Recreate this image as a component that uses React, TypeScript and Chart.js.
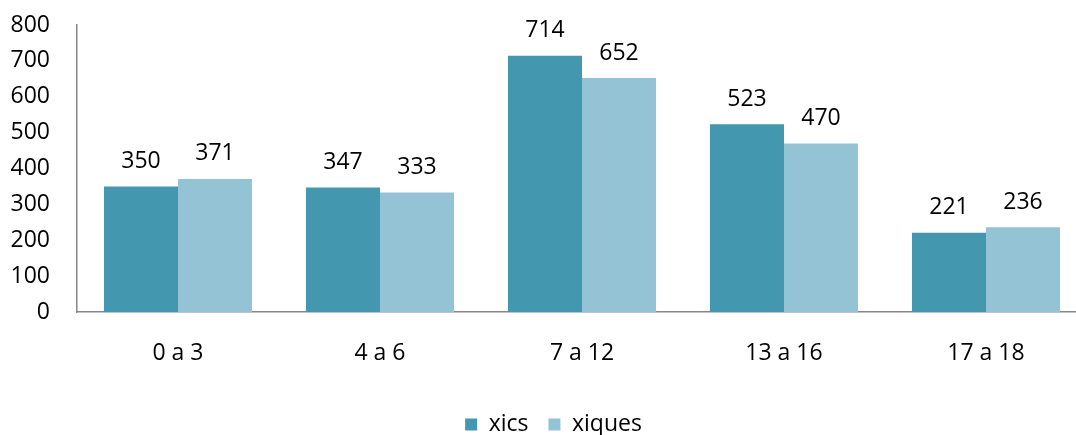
import React, { useEffect, useRef } from "react";
import { Chart, registerables } from "chart.js";

Chart.register(...registerables);

const categories = ["0 a 3", "4 a 6", "7 a 12", "13 a 16", "17 a 18"];
const xics = [350, 347, 714, 523, 221];
const xiques = [371, 333, 652, 470, 236];
const yTicks = [0, 100, 200, 300, 400, 500, 600, 700, 800];

const FONT = "'Open Sans', sans-serif";
const FS = 23;
const W = 1110;
const H = 435;

const valueLabels = {
  id: "valueLabels",
  afterDatasetsDraw(chart: any) {
    const ctx = chart.ctx;
    ctx.save();
    ctx.font = `${FS}px ${FONT}`;
    ctx.fillStyle = "#000";
    ctx.textAlign = "center";
    ctx.textBaseline = "middle";
    chart.data.datasets.forEach((ds: any, i: number) => {
      const meta = chart.getDatasetMeta(i);
      meta.data.forEach((bar: any, j: number) => {
        ctx.fillText(String(ds.data[j]), bar.x, bar.y - 25);
      });
    });
    ctx.restore();
  },
};

export default function App() {
  const ref = useRef<HTMLCanvasElement | null>(null);
  useEffect(() => {
    if (!ref.current) return;
    const chart = new Chart(ref.current, {
      type: "bar",
      data: {
        labels: categories,
        datasets: [
          { label: "xics", data: xics, backgroundColor: "#4398B0" },
          { label: "xiques", data: xiques, backgroundColor: "#93C3D4" },
        ],
      },
      options: {
        responsive: false,
        animation: false,
        devicePixelRatio: 1,
        layout: { padding: { left: 20, right: W - 1087, top: 25, bottom: -11 } },
        datasets: { bar: { categoryPercentage: 0.733, barPercentage: 1 } },
        plugins: {
          tooltip: { enabled: false },
          legend: {
            position: "bottom",
            labels: {
              boxWidth: 12,
              boxHeight: 12,
              padding: 20,
              color: "#000",
              font: { family: FONT, size: FS },
            },
          },
        },
        scales: {
          x: {
            grid: { display: false, drawTicks: false },
            border: { display: true, color: "#888", width: 1.5 },
            ticks: { color: "#000", padding: 28, font: { family: FONT, size: FS } },
            afterFit(scale: any) {
              scale.height = 81;
            },
          },
          y: {
            min: 0,
            max: 800,
            afterBuildTicks(scale: any) {
              scale.ticks = yTicks.map((v) => ({ value: v }));
            },
            grid: { display: false, drawTicks: false },
            border: { display: true, color: "#888", width: 1.5 },
            ticks: { color: "#000", padding: 27, font: { family: FONT, size: FS } },
            afterFit(scale: any) {
              scale.width = 57;
              scale.paddingTop = 0;
              scale.paddingBottom = 0;
              scale._computeLabelArea = () => undefined;
            },
          },
        },
      },
      plugins: [valueLabels],
    });
    return () => chart.destroy();
  }, []);
  return (
    <div style={{ position: "fixed", left: 0, top: 0, width: W, height: H }}>
      <canvas ref={ref} width={W} height={H} style={{ display: "block", width: W, height: H }} />
    </div>
  );
}
